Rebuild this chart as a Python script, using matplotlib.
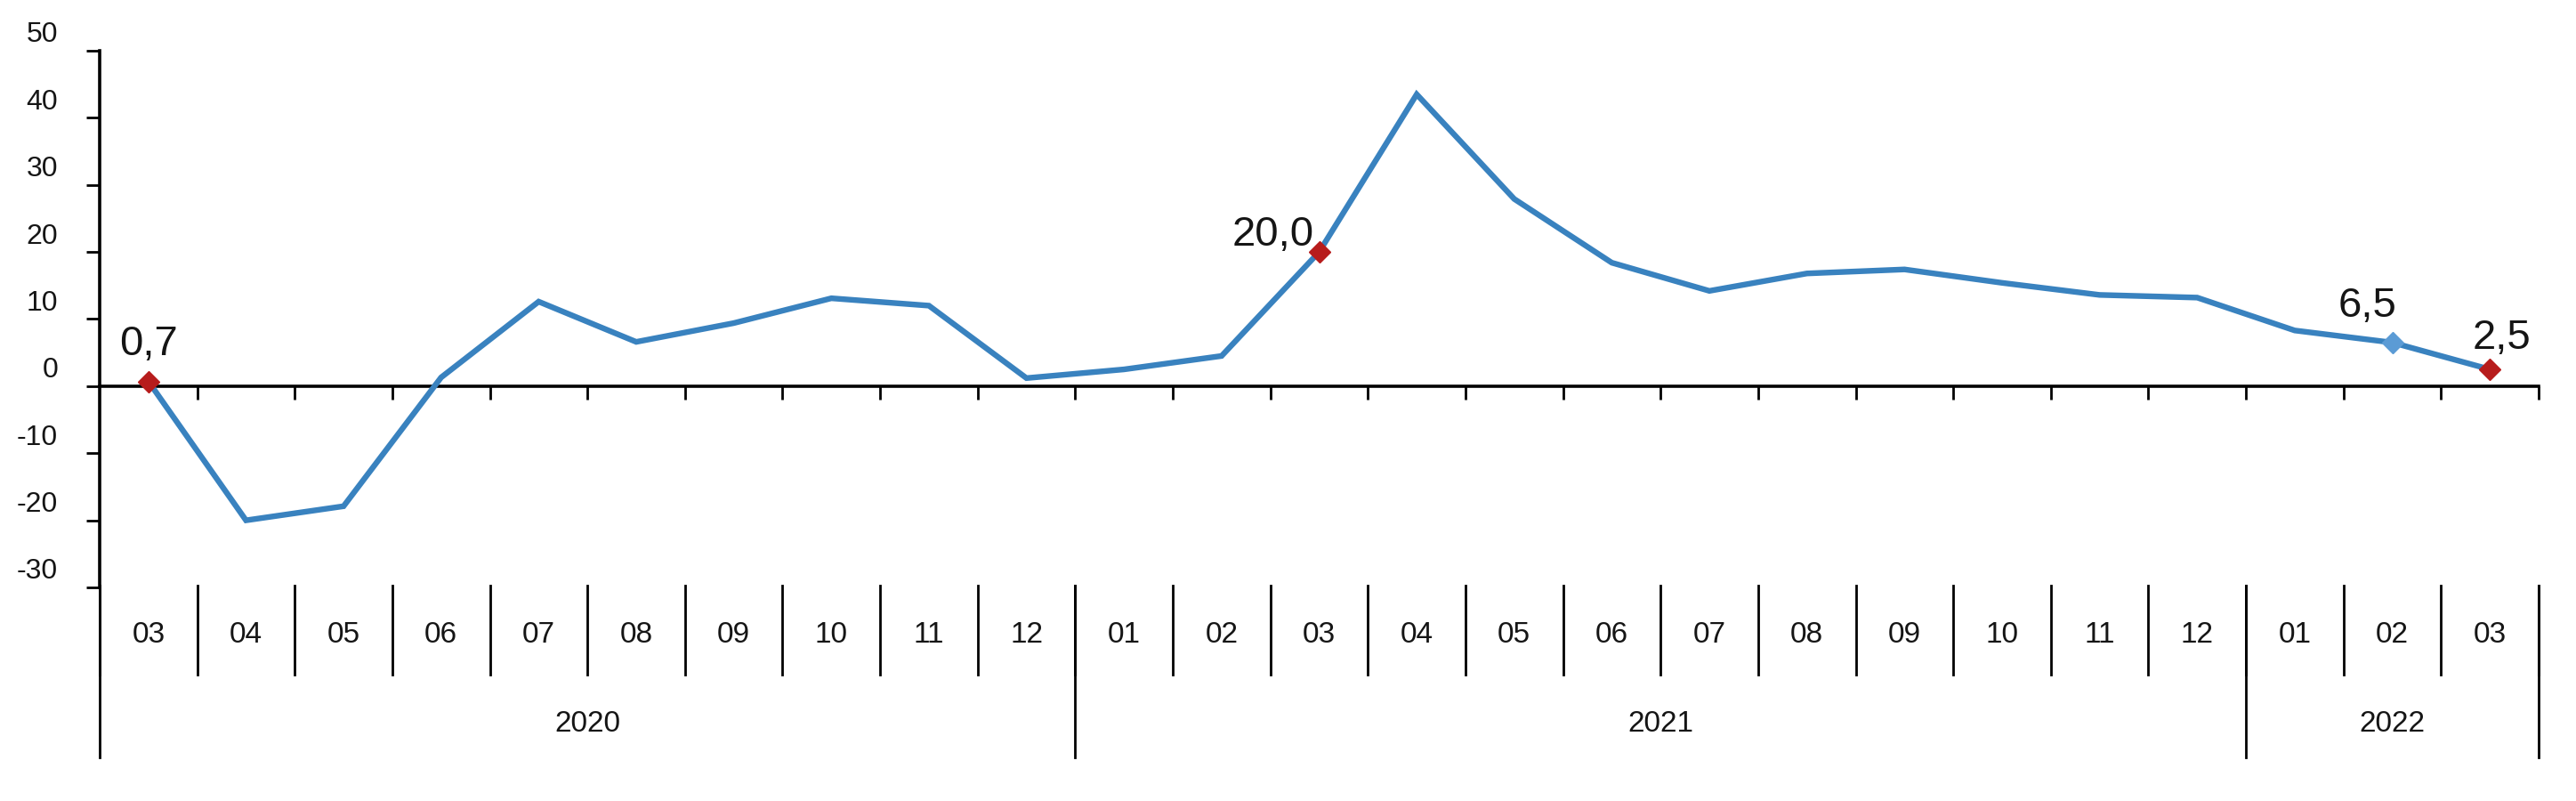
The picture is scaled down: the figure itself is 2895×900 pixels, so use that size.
import matplotlib
matplotlib.use("Agg")
import matplotlib.pyplot as plt
from matplotlib.transforms import ScaledTranslation

# ---- data ----
months = ["03", "04", "05", "06", "07", "08", "09", "10", "11", "12",
          "01", "02", "03", "04", "05", "06", "07", "08", "09", "10", "11", "12",
          "01", "02", "03"]
years = ["2020", "2021", "2022"]
year_counts = [10, 12, 3]
values = [0.7, -20.0, -17.9, 1.3, 12.6, 6.6, 9.4, 13.1, 12.0, 1.2,
          2.5, 4.5, 20.0, 43.5, 27.9, 18.4, 14.2, 16.8, 17.4, 15.4, 13.6, 13.2,
          8.3, 6.5, 2.5]
red_points = [0, 12, 24]
blue_points = [23]
labelled_points = [0, 12, 23, 24]
yticks = [-30, -20, -10, 0, 10, 20, 30, 40, 50]

# ---- style ----
plt.rcParams['font.family'] = ['Liberation Sans', 'DejaVu Sans']
LINE = '#3982BF'
RED = '#B71C1C'
LBLUE = '#5B9BD5'
TXT = '#151515'
DPI = 100
W, H = 2895, 900

fig = plt.figure(figsize=(W / DPI, H / DPI), dpi=DPI)
ax = fig.add_axes([112 / W, 240 / H, (2853 - 112) / W, 603 / H])

n = len(values)
x = list(range(n))
ax.plot(x, values, color=LINE, lw=4.6, solid_joinstyle='miter', zorder=3)
ax.plot([x[i] for i in red_points], [values[i] for i in red_points], ls='none',
        marker='D', ms=12.5, color=RED, zorder=4)
ax.plot([x[i] for i in blue_points], [values[i] for i in blue_points], ls='none',
        marker='D', ms=12.5, color=LBLUE, zorder=4)

def fmt(v):
    return f"{v:.1f}".replace('.', ',')

label_style = {0: dict(off=(0, 30), ha='center'),
               12: dict(off=(-6, 7), ha='right'),
               23: dict(off=(-28, 29), ha='center'),
               24: dict(off=(13, 23), ha='center')}
for i in labelled_points:
    st = label_style[i]
    ax.annotate(fmt(values[i]), (x[i], values[i]), xytext=st['off'],
                textcoords='offset pixels', ha=st['ha'], va='baseline',
                fontsize=34, color=TXT, zorder=5)

ax.set_xlim(-0.5, n - 0.5)
ax.set_ylim(-30, 50)

for s in ['top', 'right']:
    ax.spines[s].set_visible(False)
ax.spines['bottom'].set_position(('data', 0))
ax.spines['left'].set_linewidth(2.6)
ax.spines['bottom'].set_linewidth(2.6)

ax.set_yticks(yticks)
ax.set_yticklabels([str(t) for t in yticks])
ax.tick_params(axis='y', direction='out', length=10.8, width=2.0, pad=23,
               labelsize=23, labelcolor=TXT)
for lab in ax.get_yticklabels():
    lab.set_transform(lab.get_transform() + ScaledTranslation(0, 21 / DPI, fig.dpi_scale_trans))

ax.set_xticks([k - 0.5 for k in range(1, n + 1)])
ax.set_xticklabels([])
ax.tick_params(axis='x', direction='out', length=10.8, width=2.0)

# category rows below the plot area (data coords below ylim)
px = 7.5  # pixels per unit
def ypix(p):
    return -30 - (p - 660) / px

row_top = ypix(658)
row_mid = ypix(758)
row_bot = ypix(850)
month_y = ypix(713)
year_y = ypix(813)

for k in range(0, n + 1):
    ax.plot([k - 0.5, k - 0.5], [row_top, row_mid], color='black', lw=2.0, clip_on=False)
for i, m in enumerate(months):
    ax.text(i, month_y, m, ha='center', va='center', fontsize=24, color=TXT)

b = [0]
for c in year_counts:
    b.append(b[-1] + c)
for k in b:
    ax.plot([k - 0.5, k - 0.5], [row_top, row_bot], color='black', lw=2.0, clip_on=False)
for j, yname in enumerate(years):
    cx = (b[j] + b[j + 1] - 1) / 2
    ax.text(cx, year_y, yname, ha='center', va='center', fontsize=24, color=TXT)

fig.savefig('out.png', dpi=DPI, facecolor='white')
